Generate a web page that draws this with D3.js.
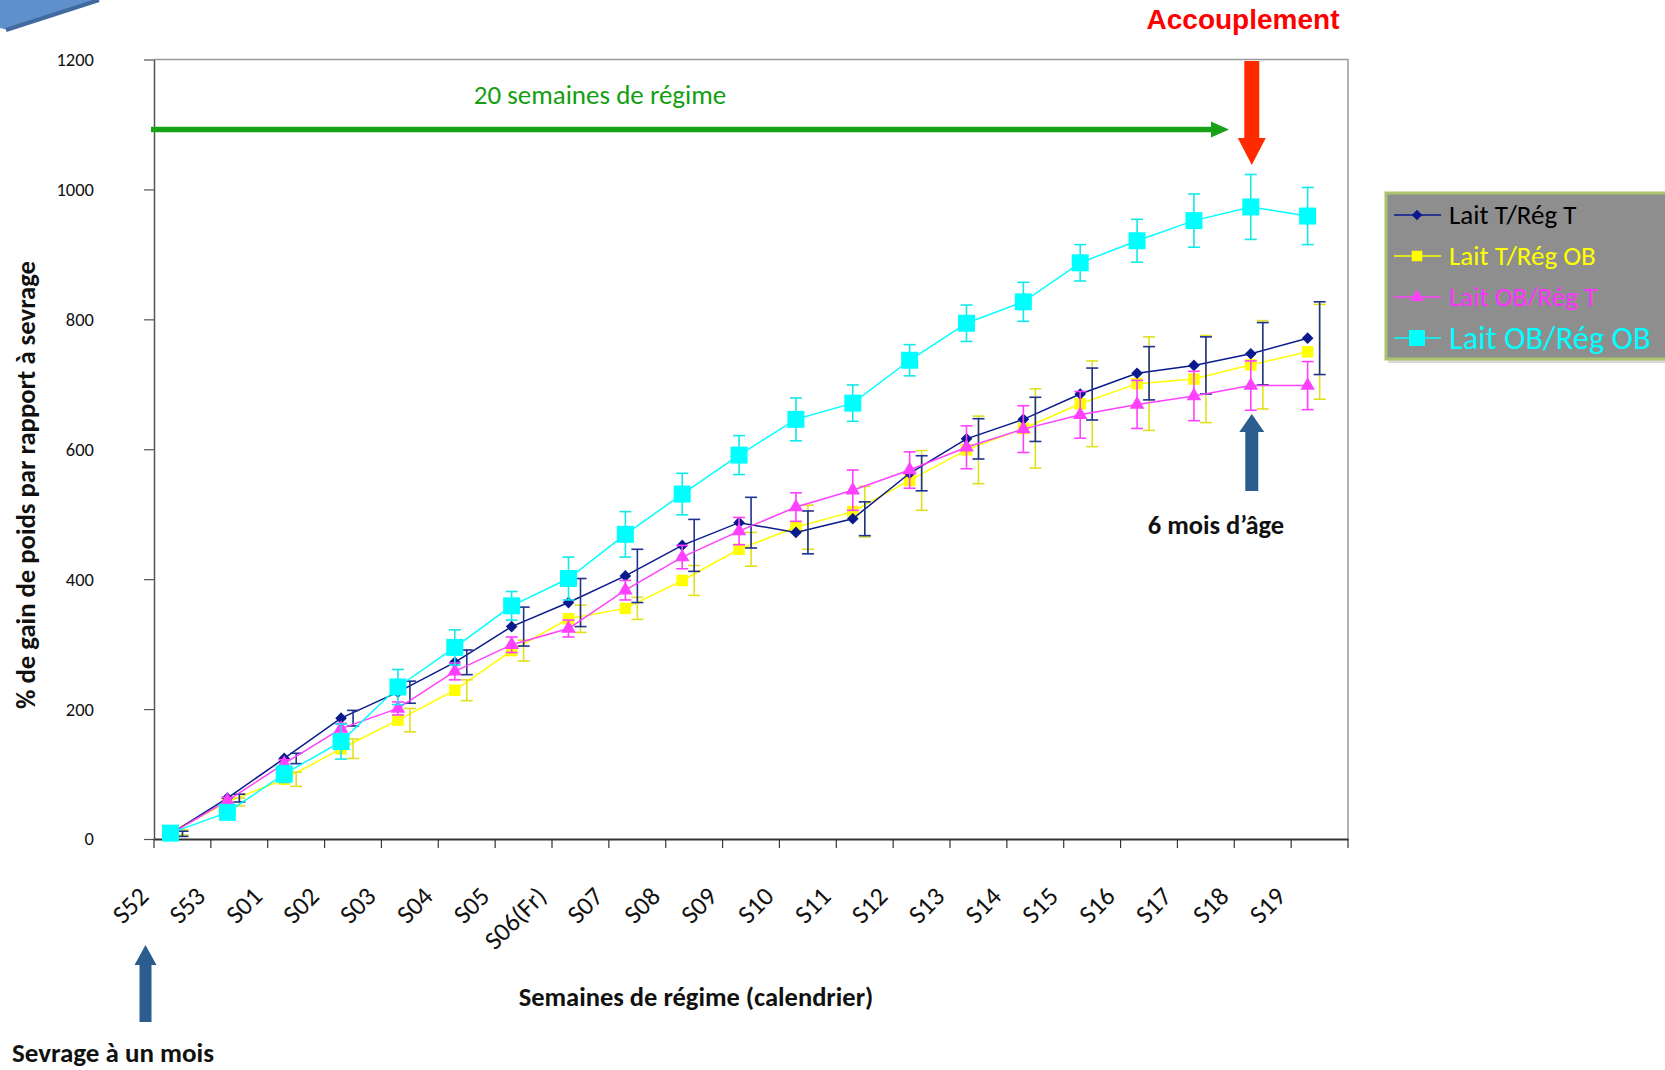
<!DOCTYPE html>
<html>
<head>
<meta charset="utf-8">
<title>Gain de poids</title>
<script src="https://d3js.org/d3.v7.min.js"></script>
<style>
  body { margin: 0; background: #fff; }
  svg { display: block; }
</style>
</head>
<body>
<div id="chart"></div>
<script>
// weeks on the x axis
const weeks = ['S52', 'S53', 'S01', 'S02', 'S03', 'S04', 'S05', 'S06(Fr)', 'S07', 'S08', 'S09',
  'S10', 'S11', 'S12', 'S13', 'S14', 'S15', 'S16', 'S17', 'S18', 'S19'];

// % weight gain, one array per group
const laitT_regT = [8, 63, 124, 186, 226, 272, 327, 364, 405, 452, 487, 472, 493, 563, 616, 646, 685, 717, 729, 747, 771];
const laitT_regOB = [10, 57, 92, 139, 183, 229, 290, 339, 355, 398, 446, 480, 504, 552, 599, 632, 670, 701, 708, 730, 750];
const laitOB_regT = [8, 59, 116, 170, 201, 258, 299, 324, 383, 434, 474, 511, 537, 568, 603, 631, 653, 669, 682, 698, 698];
const laitOB_regOB = [9, 41, 100, 150, 234, 295, 359, 401, 469, 531, 591, 646, 671, 737, 794, 827, 887, 921, 952, 973, 959];

// error bars (+/-)
const errT_T = [4, 6, 8, 12, 17, 19, 30, 37, 41, 40, 39, 33, 26, 27, 31, 34, 40, 41, 44, 48, 56];
const errT_OB = [4, 6, 11, 15, 18, 16, 16, 21, 17, 23, 26, 34, 39, 46, 52, 61, 66, 72, 67, 68, 73];
const errOB_T = [3, 5, 6, 8, 10, 13, 12, 13, 15, 18, 21, 22, 31, 28, 33, 36, 36, 37, 38, 38, 37];
const errOB_OB = [3, 6, 13, 27, 27, 27, 22, 33, 35, 32, 30, 33, 28, 24, 28, 30, 28, 33, 41, 50, 44];

const yTicks = [0, 200, 400, 600, 800, 1000, 1200];
const groupNames = ['Lait T/Rég T', 'Lait T/Rég OB', 'Lait OB/Rég T', 'Lait OB/Rég OB'];

const width = 1665;
const height = 1070;
const plot = { left: 154, right: 1348, top: 59.5, bottom: 839 };
const calibri = "Carlito, Lato, 'Open Sans', sans-serif";

const svg = d3.select('#chart')
  .append('svg')
  .attr('width', width)
  .attr('height', height);

svg.append('rect').attr('width', width).attr('height', height).attr('fill', '#fff');

const x = d3.scaleBand().domain(weeks).range([plot.left, plot.right]);
const y = d3.scaleLinear().domain([0, 1200]).range([plot.bottom, plot.top]);
const px = w => x(w) + 16.5;

// series styles (draw order)
const series = [
  { name: groupNames[1], values: laitT_regOB, err: errT_OB, color: '#ffff00', bar: '#e0e020',
    sym: d3.symbolSquare, size: 132, rot: 0, shift: 12 },
  { name: groupNames[0], values: laitT_regT, err: errT_T, color: '#0a1a8c', bar: '#1f3191',
    sym: d3.symbolSquare, size: 68, rot: 45, shift: 12 },
  { name: groupNames[2], values: laitOB_regT, err: errOB_T, color: '#ff40ff', bar: '#ff40ff',
    sym: d3.symbolTriangle, size: 92, rot: 0, shift: 0 },
  { name: groupNames[3], values: laitOB_regOB, err: errOB_OB, color: '#00ffff', bar: '#10eaea',
    sym: d3.symbolSquare, size: 289, rot: 0, shift: 0 }
];

// top-left decoration
svg.append('path')
  .attr('d', 'M0,0 L99,0 L8,30 L0,28 Z')
  .attr('fill', '#5f90cc');
svg.append('line')
  .attr('x1', 99).attr('y1', 0).attr('x2', 6).attr('y2', 30)
  .attr('stroke', '#416b9e').attr('stroke-width', 4);

// plot frame
svg.append('path')
  .attr('d', `M${plot.left},${plot.top} H${plot.right} V${plot.bottom}`)
  .attr('fill', 'none')
  .attr('stroke', '#9a9a9a')
  .attr('stroke-width', 1.5);

// y axis
const yAxis = svg.append('g')
  .attr('transform', `translate(${plot.left},0)`)
  .call(d3.axisLeft(y).tickValues(yTicks).tickFormat(d3.format('d'))
    .tickSize(10).tickSizeOuter(0).tickPadding(50));
yAxis.select('.domain').attr('stroke', '#555').attr('stroke-width', 1.5);
yAxis.selectAll('.tick line').attr('stroke', '#555').attr('stroke-width', 1.2);
yAxis.selectAll('.tick text')
  .attr('font-family', calibri)
  .attr('font-size', 18.5)
  .attr('fill', '#111');

// x axis
const xAxis = svg.append('g')
  .attr('transform', `translate(0,${plot.bottom})`)
  .call(d3.axisBottom(x).tickSize(0).tickSizeOuter(0).tickPadding(0));
xAxis.select('.domain').attr('stroke', '#333').attr('stroke-width', 2);
xAxis.selectAll('.tick text')
  .attr('font-family', calibri)
  .attr('font-size', 26)
  .attr('fill', '#111')
  .attr('text-anchor', 'end')
  .attr('y', 0)
  .attr('dy', 0)
  .attr('transform', `translate(${-x.bandwidth() / 2 - 4},59) rotate(-45)`);

// tick marks between categories
xAxis.selectAll('.sep')
  .data(weeks.map(w => x(w)).concat([plot.right]))
  .enter()
  .append('line')
  .attr('x1', d => d).attr('x2', d => d)
  .attr('y1', 0).attr('y2', 9)
  .attr('stroke', '#333').attr('stroke-width', 1.2);

// series
const line = d3.line()
  .x((d, i) => px(weeks[i]))
  .y(d => y(d));

series.forEach(s => {
  const g = svg.append('g');

  g.append('path')
    .datum(s.values)
    .attr('d', line)
    .attr('fill', 'none')
    .attr('stroke', s.color)
    .attr('stroke-width', 1.5);

  const bars = g.selectAll('.bar')
    .data(s.values)
    .enter()
    .append('g')
    .attr('stroke', s.bar)
    .attr('stroke-width', 1.6);

  bars.append('line')
    .attr('x1', (d, i) => px(weeks[i]) + s.shift)
    .attr('x2', (d, i) => px(weeks[i]) + s.shift)
    .attr('y1', (d, i) => y(d - s.err[i]))
    .attr('y2', (d, i) => y(d + s.err[i]));
  [-1, 1].forEach(k => {
    bars.append('line')
      .attr('x1', (d, i) => px(weeks[i]) + s.shift - 6)
      .attr('x2', (d, i) => px(weeks[i]) + s.shift + 6)
      .attr('y1', (d, i) => y(d + k * s.err[i]))
      .attr('y2', (d, i) => y(d + k * s.err[i]));
  });

  g.selectAll('.pt')
    .data(s.values)
    .enter()
    .append('path')
    .attr('d', d3.symbol().type(s.sym).size(s.size))
    .attr('transform', (d, i) => `translate(${px(weeks[i])},${y(d)}) rotate(${s.rot})`)
    .attr('fill', s.color);
});

// green arrow: 20 semaines de régime
svg.append('line')
  .attr('x1', 151).attr('x2', 1213)
  .attr('y1', 129.5).attr('y2', 129.5)
  .attr('stroke', '#16a116')
  .attr('stroke-width', 5.5);
svg.append('path')
  .attr('d', 'M1211,121.5 L1229,129.5 L1211,137.5 Z')
  .attr('fill', '#16a116');
svg.append('text')
  .attr('x', 600).attr('y', 104)
  .attr('text-anchor', 'middle')
  .attr('font-family', calibri)
  .attr('font-size', 27)
  .attr('fill', '#12a012')
  .text('20 semaines de régime');

// red arrow: Accouplement
const ax = px('S18') + 1;
svg.append('path')
  .attr('d', `M${ax - 7.5},61 H${ax + 7.5} V138 H${ax + 14} L${ax},165 L${ax - 14},138 H${ax - 7.5} Z`)
  .attr('fill', '#ff2a00');
svg.append('text')
  .attr('x', 1243).attr('y', 29)
  .attr('text-anchor', 'middle')
  .attr('font-family', "'Liberation Sans', Arial, sans-serif")
  .attr('font-weight', 'bold')
  .attr('font-size', 28)
  .attr('fill', '#ff0000')
  .text('Accouplement');

// blue arrow: 6 mois d'âge
svg.append('path')
  .attr('d', `M${ax - 6.5},491 V432 H${ax - 12.5} L${ax},414 L${ax + 12.5},432 H${ax + 6.5} V491 Z`)
  .attr('fill', '#2b5d8f');
svg.append('text')
  .attr('x', 1216).attr('y', 534)
  .attr('text-anchor', 'middle')
  .attr('font-family', calibri)
  .attr('font-weight', 'bold')
  .attr('font-size', 26.5)
  .attr('fill', '#111')
  .text('6 mois d’âge');

// blue arrow: sevrage
svg.append('path')
  .attr('d', 'M139.5,1022 V965 H134.5 L145.5,945 L156.5,965 H151.5 V1022 Z')
  .attr('fill', '#2b5d8f');
svg.append('text')
  .attr('x', 12).attr('y', 1062)
  .attr('font-family', calibri)
  .attr('font-weight', 'bold')
  .attr('font-size', 27)
  .attr('fill', '#111')
  .text('Sevrage à un mois');

// axis titles
svg.append('text')
  .attr('x', 696).attr('y', 1006)
  .attr('text-anchor', 'middle')
  .attr('font-family', calibri)
  .attr('font-weight', 'bold')
  .attr('font-size', 26.5)
  .attr('fill', '#111')
  .text('Semaines de régime (calendrier)');

svg.append('text')
  .attr('transform', 'translate(35,485) rotate(-90)')
  .attr('text-anchor', 'middle')
  .attr('font-family', calibri)
  .attr('font-weight', 'bold')
  .attr('font-size', 26.7)
  .attr('fill', '#111')
  .text('% de gain de poids par rapport à sevrage');

// legend
const legend = svg.append('g').attr('transform', 'translate(1386,193)');
legend.append('rect')
  .attr('x', 2).attr('y', 2)
  .attr('width', 320).attr('height', 168)
  .attr('fill', '#d8d8d8');
legend.append('rect')
  .attr('width', 320).attr('height', 166)
  .attr('fill', '#8e8e8e')
  .attr('stroke', '#a9c46c')
  .attr('stroke-width', 3);

const legendItems = [
  { name: groupNames[0], color: '#0a1a8c', text: '#000', sym: d3.symbolSquare, size: 55, rot: 45, font: 27 },
  { name: groupNames[1], color: '#ffff00', text: '#ffff00', sym: d3.symbolSquare, size: 110, rot: 0, font: 27 },
  { name: groupNames[2], color: '#ff40ff', text: '#ff33ff', sym: d3.symbolTriangle, size: 80, rot: 0, font: 27 },
  { name: groupNames[3], color: '#00ffff', text: '#00ffff', sym: d3.symbolSquare, size: 256, rot: 0, font: 32.5 }
];

const items = legend.selectAll('.item')
  .data(legendItems)
  .enter()
  .append('g')
  .attr('transform', (d, i) => `translate(0,${22 + i * 41})`);

items.append('line')
  .attr('x1', 8).attr('x2', 55)
  .attr('stroke', d => d.color)
  .attr('stroke-width', 1.5);
items.append('path')
  .attr('d', d => d3.symbol().type(d.sym).size(d.size)())
  .attr('transform', d => `translate(31,0) rotate(${d.rot})`)
  .attr('fill', d => d.color);
items.append('text')
  .attr('x', 63)
  .attr('dy', '0.35em')
  .attr('font-family', calibri)
  .attr('font-size', d => d.font)
  .attr('fill', d => d.text)
  .text(d => d.name);
</script>
</body>
</html>
